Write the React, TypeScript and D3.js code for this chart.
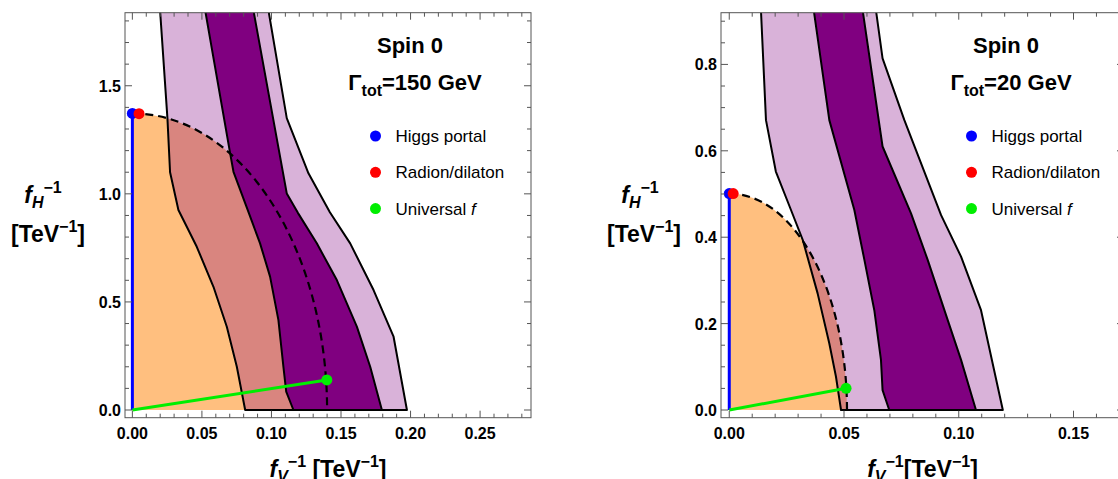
import React from 'react';
import * as d3 from 'd3';

// ---- values (TeV^-1) ----
// left panel: Gamma_tot = 150 GeV
const leftLightLeft = [[0.0199,1.85],[0.0252,1.35],[0.0271,1.10],[0.0331,0.925],[0.0367,0.879],[0.0463,0.755],[0.0583,0.570],[0.0679,0.385],[0.0751,0.200],[0.0811,0]];
const leftDarkLeft = [[0.0523,1.85],[0.0703,1.187],[0.0727,1.102],[0.0835,0.915],[0.0918,0.771],[0.0990,0.617],[0.1050,0.416],[0.1086,0.200],[0.1106,0.085],[0.1158,0]];
const leftDarkRight = [[0.0870,1.85],[0.1110,1.002],[0.1190,0.912],[0.1326,0.771],[0.1470,0.601],[0.1614,0.386],[0.1710,0.200],[0.1794,0]];
const leftLightRight = [[0.0978,1.85],[0.1110,1.35],[0.1266,1.095],[0.1420,0.915],[0.1566,0.771],[0.1734,0.555],[0.1878,0.339],[0.1974,0]];
const leftEllipse = [0.140, 1.372];
const leftPoints = [[0, 1.372], [0.0048, 1.371], [0.1398, 0.139]];
const leftXTicks = [0, 0.05, 0.1, 0.15, 0.2, 0.25];
const leftYTicks = [0, 0.5, 1.0, 1.5];

// right panel: Gamma_tot = 20 GeV
const rightLightLeft = [[0.0138,0.926],[0.0160,0.671],[0.0203,0.552],[0.0269,0.463],[0.0320,0.394],[0.0385,0.270],[0.0436,0.154],[0.0465,0.077],[0.0487,0]];
const rightDarkLeft = [[0.0368,0.926],[0.0436,0.671],[0.0545,0.463],[0.0589,0.347],[0.0632,0.231],[0.0661,0.116],[0.0668,0.046],[0.0697,0]];
const rightDarkRight = [[0.0581,0.926],[0.0668,0.610],[0.0792,0.455],[0.0865,0.347],[0.0952,0.208],[0.1010,0.116],[0.1075,0]];
const rightLightRight = [[0.0639,0.926],[0.0668,0.814],[0.0763,0.671],[0.0923,0.451],[0.1010,0.355],[0.1097,0.231],[0.1192,0]];
const rightEllipse = [0.0513, 0.501];
const rightPoints = [[0, 0.501], [0.0017, 0.501], [0.0509, 0.0502]];
const rightXTicks = [0, 0.05, 0.1, 0.15];
const rightYTicks = [0, 0.2, 0.4, 0.6, 0.8];

const legendNames = ['Higgs portal', 'Radion/dilaton', 'Universal '];
const legendColors = ['#0000ff', '#ff0000', '#00ee00'];

const panels = [
  {id: 'l', left: 125, right: 531, xDom: [-0.0053, 0.2866], yDom: [-0.0356, 1.838],
   lightL: leftLightLeft, lightR: leftLightRight, darkL: leftDarkLeft, darkR: leftDarkRight,
   ell: leftEllipse, pts: leftPoints, xt: leftXTicks, yt: leftYTicks, xMinor: 0.01, yMinor: 0.1,
   gamma: '=150 GeV', xSpace: ' ', yLabX: 43, yLab2X: 48},
  {id: 'r', left: 721, right: 1124, xDom: [-0.0036, 0.172], yDom: [-0.0178, 0.9197],
   lightL: rightLightLeft, lightR: rightLightRight, darkL: rightDarkLeft, darkR: rightDarkRight,
   ell: rightEllipse, pts: rightPoints, xt: rightXTicks, yt: rightYTicks, xMinor: 0.01, yMinor: 0.05,
   gamma: '=20 GeV', xSpace: '', yLabX: 640, yLab2X: 644},
];

const TOP = 12.7, BOTTOM = 417.7;
const FONT = '"Liberation Sans", Arial, sans-serif';

function Panel({p}) {
  const x = d3.scaleLinear().domain(p.xDom).range([p.left, p.right]);
  const y = d3.scaleLinear().domain(p.yDom).range([BOTTOM, TOP]);
  const line = d3.line().x(d => x(d[0])).y(d => y(d[1]));
  const lightPoly = line([...p.lightL, ...p.lightR.slice().reverse()]) + 'Z';
  const darkPoly = line([...p.darkL, ...p.darkR.slice().reverse()]) + 'Z';
  const rx = x(p.ell[0]) - x(0), ry = y(0) - y(p.ell[1]);
  const arc = `M${x(0)},${y(p.ell[1])} A${rx},${ry} 0 0 1 ${x(p.ell[0])},${y(0)}`;
  const ellFill = `M${x(0)},${y(0)} L${x(0)},${y(p.ell[1])} A${rx},${ry} 0 0 1 ${x(p.ell[0])},${y(0)} Z`;

  const xMinors = d3.range(0, p.xDom[1], p.xMinor).filter(v => !p.xt.some(t => Math.abs(t - v) < 1e-6));
  const yMinors = d3.range(0, p.yDom[1], p.yMinor).filter(v => !p.yt.some(t => Math.abs(t - v) < 1e-6));
  const tickCol = '#555';
  const major = 7, minor = 4;

  return (
    <g>
      <defs>
        <clipPath id={'clip' + p.id}>
          <rect x={p.left} y={TOP} width={p.right - p.left} height={BOTTOM - TOP} />
        </clipPath>
      </defs>
      <g clipPath={`url(#clip${p.id})`}>
        <path d={ellFill} fill="#ff8000" fillOpacity={0.5} />
        <path d={lightPoly} fill="#800080" fillOpacity={0.3} stroke="#000" strokeWidth={2} strokeLinejoin="round" />
        <path d={darkPoly} fill="#800080" stroke="#000" strokeWidth={2} strokeLinejoin="round" />
        <path d={arc} fill="none" stroke="#000" strokeWidth={2.2} strokeDasharray="8,5" />
        <line x1={x(0)} y1={y(0)} x2={x(p.pts[0][0])} y2={y(p.pts[0][1])} stroke="#0000ff" strokeWidth={3} />
        <line x1={x(0)} y1={y(0)} x2={x(p.pts[2][0])} y2={y(p.pts[2][1])} stroke="#00ee00" strokeWidth={3} />
        {p.pts.map((d, i) => (
          <circle key={i} cx={x(d[0])} cy={y(d[1])} r={5.5} fill={legendColors[i]} />
        ))}
      </g>
      {/* frame */}
      <rect x={p.left} y={TOP} width={p.right - p.left} height={BOTTOM - TOP} fill="none" stroke={tickCol} strokeWidth={1} />
      {p.xt.map(t => (
        <g key={'xt' + t}>
          <line x1={x(t)} x2={x(t)} y1={BOTTOM} y2={BOTTOM - major} stroke={tickCol} />
          <line x1={x(t)} x2={x(t)} y1={TOP} y2={TOP + major} stroke={tickCol} />
          <text x={x(t)} y={439} textAnchor="middle" fontFamily={FONT} fontWeight="bold" fontSize={16}>{t.toFixed(2)}</text>
        </g>
      ))}
      {xMinors.map(t => (
        <g key={'xm' + t}>
          <line x1={x(t)} x2={x(t)} y1={BOTTOM} y2={BOTTOM - minor} stroke={tickCol} />
          <line x1={x(t)} x2={x(t)} y1={TOP} y2={TOP + minor} stroke={tickCol} />
        </g>
      ))}
      {p.yt.map(t => (
        <g key={'yt' + t}>
          <line x1={p.left} x2={p.left + major} y1={y(t)} y2={y(t)} stroke={tickCol} />
          <line x1={p.right} x2={p.right - major} y1={y(t)} y2={y(t)} stroke={tickCol} />
          <text x={p.left - 4} y={y(t) + 6} textAnchor="end" fontFamily={FONT} fontWeight="bold" fontSize={16}>{t.toFixed(1)}</text>
        </g>
      ))}
      {yMinors.map(t => (
        <g key={'ym' + t}>
          <line x1={p.left} x2={p.left + minor} y1={y(t)} y2={y(t)} stroke={tickCol} />
          <line x1={p.right} x2={p.right - minor} y1={y(t)} y2={y(t)} stroke={tickCol} />
        </g>
      ))}
      {/* axis labels */}
      <text x={(p.left + p.right) / 2} y={477} textAnchor="middle" fontFamily={FONT} fontWeight="bold" fontSize={23}>
        <tspan fontStyle="italic">f</tspan>
        <tspan fontStyle="italic" fontSize={16} dy={5}>V</tspan>
        <tspan fontSize={16} dy={-15}>−1</tspan>
        <tspan dy={10}>{p.xSpace}[TeV</tspan>
        <tspan fontSize={16} dy={-10}>−1</tspan>
        <tspan dy={10}>]</tspan>
      </text>
      <text x={p.yLabX} y={203} textAnchor="middle" fontFamily={FONT} fontWeight="bold" fontSize={23}>
        <tspan fontStyle="italic">f</tspan>
        <tspan fontStyle="italic" fontSize={16} dy={5}>H</tspan>
        <tspan fontSize={16} dy={-15}>−1</tspan>
      </text>
      <text x={p.yLab2X} y={242} textAnchor="middle" fontFamily={FONT} fontWeight="bold" fontSize={23}>
        <tspan>[TeV</tspan>
        <tspan fontSize={16} dy={-10}>−1</tspan>
        <tspan dy={10}>]</tspan>
      </text>
      {/* title */}
      <text x={p.left + 285} y={53} textAnchor="middle" fontFamily={FONT} fontWeight="bold" fontSize={22}>Spin 0</text>
      <text x={p.left + 290} y={90} textAnchor="middle" fontFamily={FONT} fontWeight="bold" fontSize={22}>
        <tspan>Γ</tspan>
        <tspan fontSize={16} dy={6}>tot</tspan>
        <tspan dy={-6}>{p.gamma}</tspan>
      </text>
      {/* legend */}
      {legendNames.map((n, i) => (
        <g key={n}>
          <circle cx={p.left + 250.5} cy={136 + i * 36.3} r={5.5} fill={legendColors[i]} />
          <text x={p.left + 270.5} y={136 + i * 36.3 + 6} fontFamily={FONT} fontSize={17}>
            {n}{i === 2 ? <tspan fontStyle="italic">f</tspan> : null}
          </text>
        </g>
      ))}
    </g>
  );
}

export default function App() {
  return (
    <svg width={1118} height={479} style={{position: 'absolute', left: 0, top: 0, background: '#fff'}}>
      {panels.map(p => <Panel key={p.id} p={p} />)}
    </svg>
  );
}
